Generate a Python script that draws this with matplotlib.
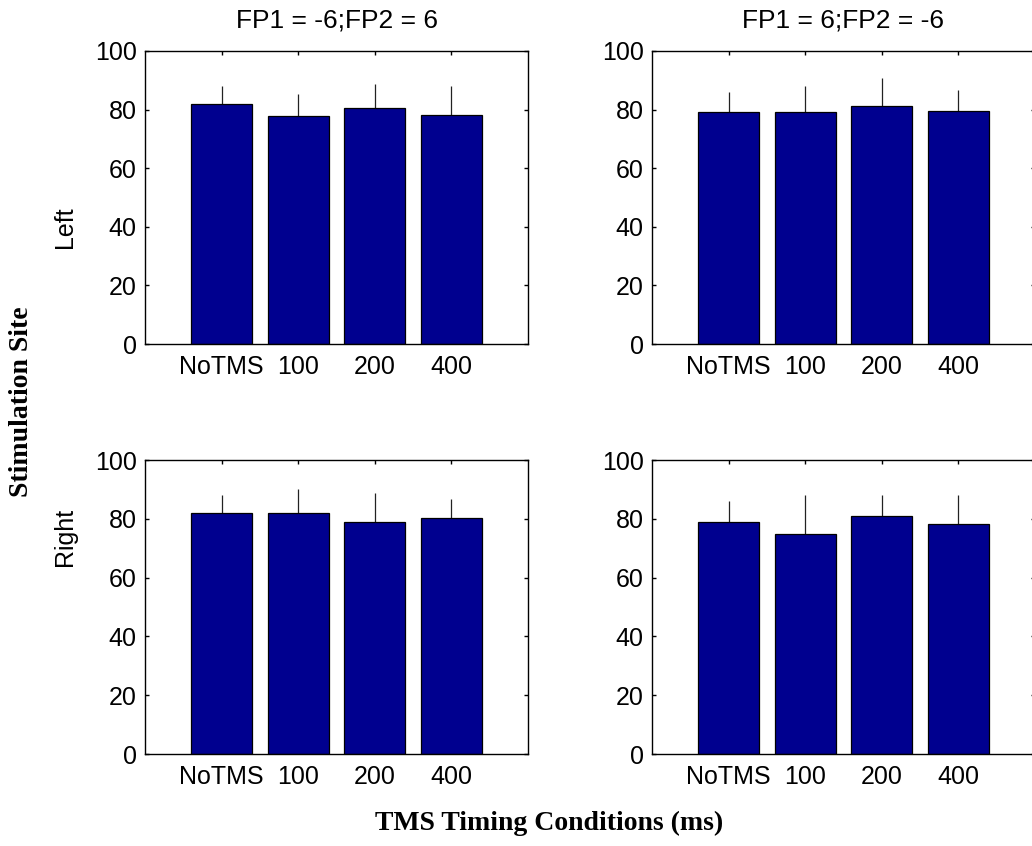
import matplotlib
matplotlib.use("Agg")
import matplotlib.pyplot as plt
import numpy as np

conditions = ["NoTMS", "100", "200", "400"]
panel_titles = ["FP1 = -6;FP2 = 6", "FP1 = 6;FP2 = -6"]
site_labels = ["Left", "Right"]

# mean accuracy (%) and upper error per panel
left_fp_neg = [81.9, 77.7, 80.4, 78.3]
left_fp_neg_err = [6.3, 7.6, 8.4, 9.9]
left_fp_pos = [79.1, 79.1, 81.1, 79.6]
left_fp_pos_err = [6.8, 9.0, 9.8, 7.1]
right_fp_neg = [81.9, 81.9, 79.0, 80.4]
right_fp_neg_err = [6.2, 8.1, 9.8, 6.2]
right_fp_pos = [79.0, 74.7, 81.0, 78.2]
right_fp_pos_err = [6.9, 13.4, 7.1, 9.9]

y_ticks = [0, 20, 40, 60, 80, 100]

SANS = "Liberation Sans"
SERIF = "Liberation Serif"
BAR_COLOR = "#00008F"
FS = 18

W, H = 1032, 846
fig = plt.figure(figsize=(W / 100, H / 100), dpi=100)


def px_axes(x0, y0, x1, y1):
    return fig.add_axes([x0 / W, 1 - y1 / H, (x1 - x0) / W, (y1 - y0) / H])


panels = [
    (px_axes(145, 51, 528, 344), left_fp_neg, left_fp_neg_err, panel_titles[0]),
    (px_axes(652, 51, 1035, 344), left_fp_pos, left_fp_pos_err, panel_titles[1]),
    (px_axes(145, 460, 528, 754), right_fp_neg, right_fp_neg_err, None),
    (px_axes(652, 460, 1035, 754), right_fp_pos, right_fp_pos_err, None),
]

x = np.arange(1, len(conditions) + 1)
for ax, means, errs, title in panels:
    lower = np.zeros(len(errs))
    ax.errorbar(x, means, yerr=[lower, errs], fmt="none", ecolor="#222222",
                elinewidth=0.9, capsize=0, zorder=1)
    ax.bar(x, means, width=0.8, color=BAR_COLOR, edgecolor="black",
           linewidth=0.9, zorder=2)
    ax.set_xlim(0, 5)
    ax.set_ylim(0, 100)
    ax.set_xticks(x)
    ax.set_xticklabels(conditions, fontfamily=SANS, fontsize=FS)
    ax.set_yticks(y_ticks)
    ax.set_yticklabels([str(v) for v in y_ticks], fontfamily=SANS, fontsize=FS)
    ax.tick_params(direction="in", length=3, width=1, top=True, right=True)
    ax.tick_params(axis="x", pad=8)
    ax.tick_params(axis="y", pad=6)
    for sp in ax.spines.values():
        sp.set_linewidth(1.0)
    if title:
        ax.set_title(title, fontfamily=SANS, fontsize=19, pad=17)

fig.text(65 / W, 1 - 227 / H, site_labels[0], rotation=90, ha="center",
         va="center", fontfamily=SANS, fontsize=FS)
fig.text(65 / W, 1 - 537 / H, site_labels[1], rotation=90, ha="center",
         va="center", fontfamily=SANS, fontsize=FS)

fig.text(22 / W, 1 - 402 / H, "Stimulation Site", rotation=90, ha="center",
         va="center", fontfamily=SERIF, fontweight="bold", fontsize=20)
fig.text(549 / W, 1 - 823 / H, "TMS Timing Conditions (ms)", ha="center",
         va="center", fontfamily=SERIF, fontweight="bold", fontsize=20)

fig.savefig("out.png", dpi=100)
